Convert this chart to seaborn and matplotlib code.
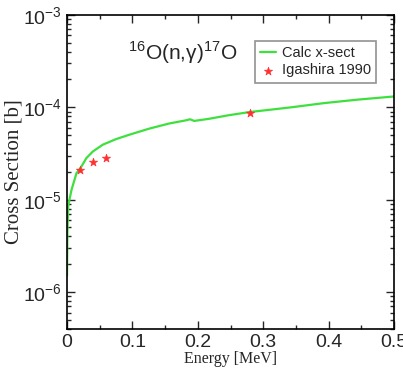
import numpy as np
import pandas as pd
import matplotlib
matplotlib.use("Agg")
import matplotlib.pyplot as plt
import matplotlib.ticker as mticker
import seaborn as sns

# calculated cross section (MeV, barn)
calc_energy = [0.0002, 0.0008, 0.002, 0.0045, 0.0071, 0.0147, 0.0208, 0.0298, 0.0398,
               0.055, 0.0753, 0.0955, 0.126, 0.156, 0.183, 0.188, 0.1945, 0.217,
               0.247, 0.28, 0.31, 0.343, 0.393, 0.444, 0.5]
calc_xsect = [1.5e-6, 4.5e-6, 8.5e-6, 1.05e-5, 1.28e-5, 1.94e-5, 2.2e-5, 2.82e-5, 3.33e-5,
              3.94e-5, 4.53e-5, 5.05e-5, 5.88e-5, 6.67e-5, 7.25e-5, 7.42e-5, 7.12e-5, 7.5e-5,
              8.2e-5, 8.9e-5, 9.4e-5, 1.0e-4, 1.11e-4, 1.21e-4, 1.31e-4]

# Igashira 1990 measurements
exp_energy = [0.0197, 0.040, 0.060, 0.280]
exp_xsect = [2.07e-5, 2.53e-5, 2.8e-5, 8.6e-5]

calc_df = pd.DataFrame({"E": calc_energy, "sigma": calc_xsect})
exp_df = pd.DataFrame({"E": exp_energy, "sigma": exp_xsect})

sns.set_theme(style="ticks")
plt.rcParams["font.family"] = ["Liberation Sans", "DejaVu Sans"]
plt.rcParams["mathtext.fontset"] = "custom"
plt.rcParams["mathtext.rm"] = "Liberation Sans"

fig = plt.figure(figsize=(4.03, 3.73), dpi=100)
ax = fig.add_axes([0.166, 0.118, 0.812, 0.842])

sns.lineplot(data=calc_df, x="E", y="sigma", ax=ax, color="#3ee03e", lw=1.6,
             label="Calc x-sect")
sns.scatterplot(data=exp_df, x="E", y="sigma", ax=ax, color="#ff3030", marker="*",
                s=38, edgecolor="#ff3030", linewidth=0.5, label="Igashira 1990", zorder=3)

ax.set_yscale("log")
ax.set_xlim(0, 0.5)
ax.set_ylim(10 ** -6.4, 1e-3)

ax.xaxis.set_major_locator(mticker.MultipleLocator(0.1))
ax.xaxis.set_minor_locator(mticker.MultipleLocator(0.05))
ax.xaxis.set_major_formatter(mticker.FuncFormatter(lambda v, p: "0" if abs(v) < 1e-9 else f"{v:.1f}"))
ax.yaxis.set_major_locator(mticker.LogLocator(base=10, numticks=10))
ax.yaxis.set_minor_locator(mticker.LogLocator(base=10, subs=np.arange(2, 10), numticks=20))
ax.yaxis.set_minor_formatter(mticker.NullFormatter())

ax.tick_params(which="both", direction="in", top=True, right=True, labelsize=14, width=1)
ax.tick_params(which="major", length=6)
ax.tick_params(which="minor", length=3)
for sp in ax.spines.values():
    sp.set_linewidth(1.2)
    sp.set_color("black")

ax.set_xlabel("Energy [MeV]", family="Liberation Serif", fontsize=11.5, labelpad=0)
ax.set_ylabel("Cross Section [b]", family="Liberation Serif", fontsize=15, labelpad=0)

ax.text(0.187, 0.88, "$^{16}$O(n,γ)$^{17}$O", transform=ax.transAxes,
        fontsize=15, ha="left", va="center")

leg = ax.legend(loc="upper right", bbox_to_anchor=(0.945, 0.918), fontsize=10.5,
                frameon=True, fancybox=False, handlelength=1.1, handletextpad=0.4,
                borderpad=0.35, labelspacing=0.25, borderaxespad=0)
leg.get_frame().set_edgecolor("#777777")
leg.get_frame().set_linewidth(1.2)

fig.savefig("out.png", dpi=100)
